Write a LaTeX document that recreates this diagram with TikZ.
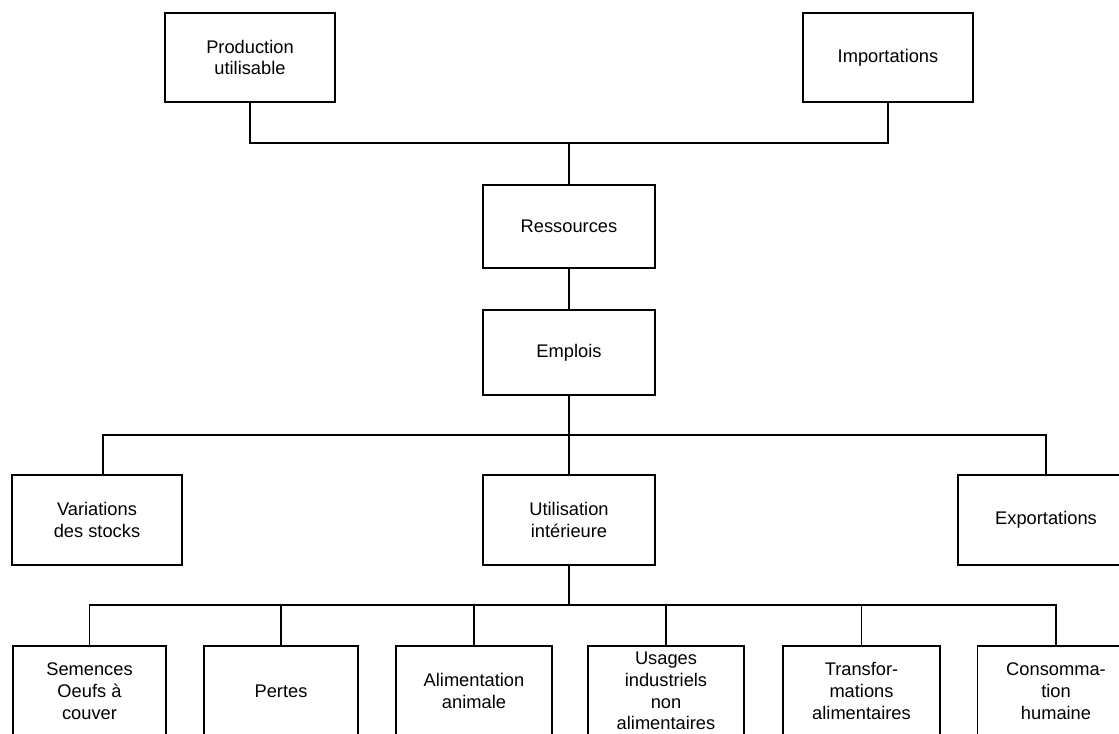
\documentclass[tikz,border=0pt]{standalone}
\usepackage{fontspec}
\setmainfont{Liberation Sans}
\newcommand{\px}{0.025cm}

\begin{document}
\begin{tikzpicture}[x=\px, y=-\px, line width=1.2pt,
    box/.style={draw, rectangle, anchor=center, align=center, inner sep=0pt, font=\fontsize{13}{15.5}\selectfont}]
    \useasboundingbox (0,0) rectangle (1119,733);

    % Ressources
    \node[box, minimum width=170*\px, minimum height=89*\px] (prod) at (250,57.5) {Production\\utilisable};
    \node[box, minimum width=170*\px, minimum height=89*\px] (imp) at (888,57.5) {Importations};
    \node[box, minimum width=172*\px, minimum height=83*\px] (res) at (569,226.5) {Ressources};
    \node[box, minimum width=172*\px, minimum height=85*\px] (emp) at (569,352.5) {Emplois};

    % Emplois
    \node[box, minimum width=170*\px, minimum height=90*\px] (var) at (97,520) {Variations\\des stocks};
    \node[box, minimum width=172*\px, minimum height=90*\px] (util) at (569,520) {Utilisation\\intérieure};
    \node[box, minimum width=176*\px, minimum height=90*\px] (exp) at (1046,520) {Exportations};

    % Utilisation interieure
    \node[box, minimum width=153*\px, minimum height=90*\px] (sem) at (89.5,691) {Semences\\Oeufs à\\couver};
    \node[box, minimum width=154*\px, minimum height=90*\px] (per) at (281,691) {Pertes};
    \node[box, minimum width=156*\px, minimum height=90*\px] (ali) at (474,691) {Alimentation\\animale};
    \node[box, minimum width=156*\px, minimum height=90*\px] (usa) at (666,691) {Usages\\industriels\\non\\alimentaires};
    \node[box, minimum width=157*\px, minimum height=90*\px] (tra) at (861.5,691) {Transfor-\\mations\\alimentaires};
    \node[box, minimum width=157*\px, minimum height=90*\px] (con) at (1056,691) {Consomma-\\tion\\humaine};

    \coordinate (topbus) at (569,143);
    \coordinate (midbus) at (569,435);
    \coordinate (lowbus) at (569,605);

    \draw (prod.south) |- (topbus) -| (imp.south);
    \draw (topbus) -- (res.north);
    \draw (res.south) -- (emp.north);
    \draw (emp.south) -- (midbus);
    \draw ([xshift=6*\px]var.north) |- (midbus) -| (exp.north);
    \draw (midbus) -- (util.north);
    \draw (util.south) -- (lowbus);
    \foreach \n in {sem,per,ali,usa,tra,con}
        \draw (\n.north) |- (lowbus);
\end{tikzpicture}
\end{document}
